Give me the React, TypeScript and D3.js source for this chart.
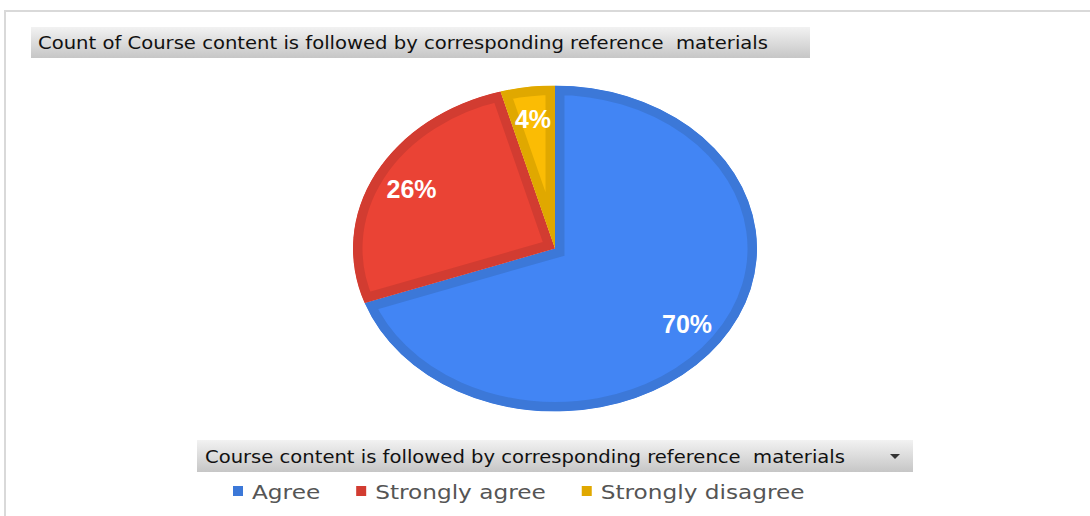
import React, { useEffect, useRef } from "react";
import * as d3 from "d3";

// Responses counted per category (16 / 6 / 1 of 23)
const categories = ["Agree", "Strongly agree", "Strongly disagree"];
const counts = [16, 6, 1];
const fills = ["#4285F4", "#EA4335", "#FBBC04"];
const borders = ["#3C78D8", "#D23C31", "#E0A800"];

const chartTitle = "Count of Course content is followed by corresponding reference  materials";
const legendTitle = "Course content is followed by corresponding reference  materials";

const W = 1090;
const H = 516;

const App: React.FC = () => {
  const ref = useRef<SVGSVGElement>(null);

  useEffect(() => {
    if (!ref.current) return;
    const svg = d3.select(ref.current);
    svg.selectAll("*").remove();

    const defs = svg.append("defs");
    const grad = defs.append("linearGradient").attr("id", "hdr").attr("x1", 0).attr("y1", 0).attr("x2", 0).attr("y2", 1);
    grad.append("stop").attr("offset", "0%").attr("stop-color", "#f2f2f2");
    grad.append("stop").attr("offset", "100%").attr("stop-color", "#c6c6c6");

    // outer frame
    svg.append("path")
      .attr("d", `M5,${H} V11 H${W}`)
      .attr("fill", "none")
      .attr("stroke", "#d9d9d9")
      .attr("stroke-width", 2);

    // title box
    svg.append("rect").attr("x", 31).attr("y", 27).attr("width", 779).attr("height", 31).attr("fill", "url(#hdr)");
    svg.append("text")
      .attr("x", 38).attr("y", 49)
      .attr("font-family", "'DejaVu Sans Condensed', 'DejaVu Sans', sans-serif")
      .attr("font-size", 17)
      .attr("fill", "#111")
      .style("white-space", "pre")
      .attr("textLength", 730)
      .attr("lengthAdjust", "spacingAndGlyphs")
      .text(chartTitle);

    // pie (elliptical: circle arc squashed vertically)
    const cx = 555, cy = 248.5, rx = 202, ry = 163;
    const pie = d3.pie<number>().value(d => d).sort(null);
    const arcs = pie(counts);
    const arc = d3.arc<d3.PieArcDatum<number>>().innerRadius(0).outerRadius(rx);
    const tf = `translate(${cx},${cy}) scale(1,${ry / rx})`;

    arcs.forEach((a, i) => {
      const id = `clip${i}`;
      defs.append("clipPath").attr("id", id)
        .append("path").attr("d", arc(a)!);
      svg.append("path")
        .attr("d", arc(a)!)
        .attr("transform", tf)
        .attr("fill", fills[i])
        .attr("stroke", borders[i])
        .attr("stroke-width", 19)
        .attr("vector-effect", "non-scaling-stroke")
        .attr("clip-path", `url(#${id})`);
    });

    const total = d3.sum(counts);
    arcs.forEach((a) => {
      const mid = (a.startAngle + a.endAngle) / 2;
      const f = 0.8;
      const x = cx + rx * f * Math.sin(mid);
      const y = cy - ry * f * Math.cos(mid);
      svg.append("text")
        .attr("x", x).attr("y", y)
        .attr("text-anchor", "middle")
        .attr("dominant-baseline", "central")
        .attr("font-family", "'Liberation Sans', Arial, sans-serif")
        .attr("font-weight", "bold")
        .attr("font-size", 25)
        .attr("fill", "#fff")
        .text(`${Math.round((a.data / total) * 100)}%`);
    });

    // legend header
    svg.append("rect").attr("x", 197).attr("y", 440).attr("width", 716).attr("height", 32).attr("fill", "url(#hdr)");
    svg.append("text")
      .attr("x", 205).attr("y", 463)
      .attr("font-family", "'DejaVu Sans Condensed', 'DejaVu Sans', sans-serif")
      .attr("font-size", 17)
      .attr("fill", "#111")
      .style("white-space", "pre")
      .attr("textLength", 640)
      .attr("lengthAdjust", "spacingAndGlyphs")
      .text(legendTitle);
    svg.append("path").attr("d", "M890,454 L900,454 L895,459 Z").attr("fill", "#333");

    // legend items (text stretched horizontally like the source)
    let lx = 233;
    categories.forEach((c, i) => {
      svg.append("rect").attr("x", lx).attr("y", 486).attr("width", 10).attr("height", 10).attr("fill", borders[i]);
      const t = svg.append("text")
        .attr("x", lx + 19).attr("y", 499)
        .attr("font-family", "'DejaVu Sans', Verdana, sans-serif")
        .attr("font-size", 20)
        .attr("fill", "#555")
        .text(c);
      const w = (t.node() as SVGTextElement).getComputedTextLength() * 1.16;
      t.attr("textLength", w).attr("lengthAdjust", "spacingAndGlyphs");
      lx = lx + 19 + w + 36;
    });
  }, []);

  return (
    <svg
      ref={ref}
      width={W}
      height={H}
      style={{ position: "absolute", left: 0, top: 0, background: "#fff" }}
    />
  );
};

export default App;
